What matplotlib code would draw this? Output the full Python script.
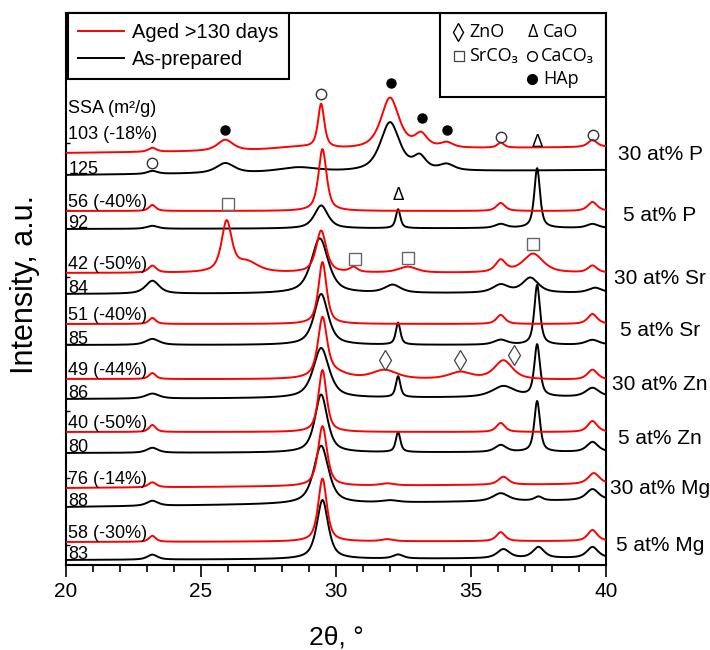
import numpy as np
import matplotlib
matplotlib.use('Agg')
import matplotlib.pyplot as plt
from matplotlib.lines import Line2D
from matplotlib.patches import Rectangle

plt.rcParams['font.family'] = ['Liberation Sans', 'DejaVu Sans']

# --- data (y in stacked-plot units) ---
samples = ["30 at% P", "5 at% P", "30 at% Sr", "5 at% Sr",
           "30 at% Zn", "5 at% Zn", "30 at% Mg", "5 at% Mg"]
ssa_aged = ["103 (-18%)", "56 (-40%)", "42 (-50%)", "51 (-40%)",
            "49 (-44%)", "40 (-50%)", "76 (-14%)", "58 (-30%)"]
ssa_prep = ["125", "92", "84", "85", "86", "80", "88", "83"]

# baseline level at 20 deg and at 40 deg
base_aged = [(412, 418), (354, 354), (292, 292), (241, 241),
             (186, 185), (133, 133), (77, 81), (23, 24)]
base_prep = [(390, 395), (336, 337), (271, 272), (220, 220),
             (166, 168), (112, 113), (58, 65), (5, 7)]

# peaks: (2theta, height, fwhm)
aged_30P = [(23.2, 4, 0.35), (25.9, 11, 0.7), (28.5, 3, 2.0), (29.45, 44, 0.28),
            (32.0, 51, 0.8), (33.15, 13, 0.55), (34.1, 5, 0.55), (36.1, 5, 0.3), (39.5, 7, 0.4)]
prep_30P = [(23.2, 3, 0.45), (25.9, 10, 0.8), (28.6, 5, 1.8), (32.0, 49, 0.85),
            (33.1, 13, 0.55), (34.1, 6, 0.65)]
aged_5P = [(23.2, 6, 0.3), (29.5, 62, 0.36), (36.1, 8, 0.38), (39.5, 9, 0.42)]
prep_5P = [(23.2, 3, 0.5), (29.45, 23, 0.6), (32.3, 19, 0.2), (36.1, 4, 0.5),
           (37.45, 60, 0.25), (39.5, 4, 0.5)]
aged_30Sr = [(23.2, 7, 0.35), (25.95, 50, 0.45), (26.7, 10, 1.0), (29.45, 42, 0.45),
             (30.65, 5, 0.35), (32.65, 6, 0.8), (36.1, 12, 0.45), (37.3, 19, 0.9), (39.5, 7, 0.4)]
prep_30Sr = [(23.2, 13, 0.6), (29.4, 55, 0.75), (32.1, 8, 0.7), (36.1, 8, 0.7),
             (37.2, 15, 0.7), (39.6, 5, 0.6)]
aged_5Sr = [(23.2, 6, 0.3), (29.5, 62, 0.36), (36.1, 9, 0.38), (39.5, 10, 0.42)]
prep_5Sr = [(23.2, 6, 0.6), (29.45, 51, 0.62), (32.3, 22, 0.2), (36.1, 5, 0.6),
            (37.45, 60, 0.25), (39.5, 5, 0.6)]
aged_30Zn = [(23.2, 6, 0.3), (29.5, 58, 0.4), (29.9, 6, 1.2), (31.8, 9, 1.1),
             (34.6, 7, 1.0), (36.2, 19, 0.8), (39.5, 10, 0.45)]
prep_30Zn = [(23.2, 5, 0.6), (29.45, 50, 0.7), (32.3, 21, 0.2), (36.2, 11, 1.0),
             (37.45, 52, 0.25), (39.5, 9, 0.6)]
aged_5Zn = [(23.2, 7, 0.3), (29.5, 62, 0.36), (36.1, 9, 0.38), (39.5, 11, 0.42)]
prep_5Zn = [(23.2, 5, 0.5), (29.45, 58, 0.55), (32.3, 20, 0.2), (36.1, 7, 0.5),
            (37.45, 51, 0.25), (39.5, 10, 0.5)]
aged_30Mg = [(23.2, 5, 0.35), (29.5, 60, 0.4), (31.9, 2, 0.6), (36.2, 8, 0.45), (39.55, 11, 0.5)]
prep_30Mg = [(23.2, 5, 0.5), (29.45, 58, 0.65), (32.0, 2, 0.7), (36.1, 8, 0.7),
             (37.5, 4, 0.35), (39.5, 11, 0.55)]
aged_5Mg = [(23.2, 6, 0.3), (29.5, 63, 0.38), (31.9, 2, 0.5), (36.1, 9, 0.38), (39.5, 11, 0.42)]
prep_5Mg = [(23.2, 5, 0.45), (29.5, 59, 0.5), (32.3, 4, 0.45), (36.2, 9, 0.55),
            (37.5, 11, 0.5), (39.5, 11, 0.5)]

peaks_aged = [aged_30P, aged_5P, aged_30Sr, aged_5Sr, aged_30Zn, aged_5Zn, aged_30Mg, aged_5Mg]
peaks_prep = [prep_30P, prep_5P, prep_30Sr, prep_5Sr, prep_30Zn, prep_5Zn, prep_30Mg, prep_5Mg]

# phase marks (2theta, y)
hap_marks = [(25.9, 435), (32.05, 482), (33.2, 447), (34.1, 435)]
caco3_marks = [(29.45, 471), (36.1, 428), (39.5, 430), (23.2, 402)]
cao_marks = [(37.45, 423), (32.3, 370)]
srco3_marks = [(26.0, 361), (30.7, 306), (32.65, 307), (37.3, 321)]
zno_marks = [(31.8, 205), (34.6, 205), (36.6, 210)]


def pattern(x, peaks, base):
    y = base[0] + (base[1] - base[0]) * (x - 20) / 20
    for pos, h, w in peaks:
        g = w / 2
        lor = g**2 / ((x - pos)**2 + g**2)
        gau = np.exp(-4 * np.log(2) * (x - pos)**2 / w**2)
        y = y + h * (0.7 * lor + 0.3 * gau)
    return y


x = np.arange(20, 40.0001, 0.02)

fig = plt.figure(figsize=(7.1, 6.5), dpi=100)
ax = fig.add_axes([66 / 710, 85 / 650, 540 / 710, 552 / 650])

for i in range(len(samples)):
    ax.plot(x, pattern(x, peaks_prep[i], base_prep[i]), color='black', lw=1.4, zorder=2)
    ax.plot(x, pattern(x, peaks_aged[i], base_aged[i]), color='red', lw=1.4, zorder=3)

    lift = 14 if i == 0 else 4
    ax.text(20.08, base_aged[i][0] + lift, ssa_aged[i], fontsize=13, va='baseline')
    ax.text(20.08, base_prep[i][0] + 1, ssa_prep[i], fontsize=13, va='baseline')
    ymid = (base_aged[i][1] + base_prep[i][1]) / 2 + 4
    ax.text(1.1, ymid, samples[i], transform=ax.get_yaxis_transform(),
            fontsize=15, ha='center', va='center', clip_on=False)

ax.text(20.08, 452, "SSA (m²/g)", fontsize=13, va='baseline')

# phase markers on the patterns
ax.plot(*zip(*hap_marks), 'o', color='black', ms=6.5, zorder=4)
ax.plot(*zip(*caco3_marks), 'o', mfc='none', mec='#333333', mew=1.0, ms=7.5, zorder=4)
ax.plot(*zip(*srco3_marks), 's', mfc='none', mec='#666666', mew=1.0, ms=8, zorder=4)
ax.plot(*zip(*zno_marks), 'd', mfc='none', mec='#444444', mew=0.9, ms=10, zorder=4)
for px, py in cao_marks:
    ax.text(px, py, "Δ", fontsize=14, ha='center', va='center',
            family=['Open Sans', 'DejaVu Sans'], zorder=4)

# legend for the two curve sets
handles = [Line2D([], [], color='red', lw=1.4), Line2D([], [], color='black', lw=1.4)]
leg = ax.legend(handles, ["Aged >130 days", "As-prepared"], loc='upper left',
                bbox_to_anchor=(0.0035, 1.0), borderaxespad=0, fontsize=14.5,
                fancybox=False, edgecolor='black', framealpha=1,
                handlelength=2.3, handletextpad=0.4, borderpad=0.5, labelspacing=0.4)
leg.get_frame().set_linewidth(1.5)

# phase key box
ax.add_patch(Rectangle((0.693, 0.848), 0.307, 0.152, transform=ax.transAxes,
                       fill=False, lw=1.5, ec='black', zorder=5))
key_font = ['Open Sans', 'DejaVu Sans']
kw = dict(fontsize=13, va='center', family=key_font)
ax.plot([34.52], [533], 'd', mfc='none', mec='black', mew=1.0, ms=9, clip_on=False)
ax.text(34.94, 533, "ZnO", **kw)
ax.text(37.3, 533, "Δ", ha='center', fontsize=13, va='center', family=key_font)
ax.text(37.66, 533, "CaO", **kw)
ax.plot([34.55], [509], 's', mfc='none', mec='#444444', mew=0.9, ms=7, clip_on=False)
ax.text(34.94, 509, "SrCO₃", **kw)
ax.plot([37.25], [509], 'o', mfc='none', mec='black', mew=1.0, ms=7, clip_on=False)
ax.text(37.58, 509, "CaCO₃", **kw)
ax.plot([37.27], [486], 'o', color='black', ms=7, clip_on=False)
ax.text(37.66, 486, "HAp", **kw)

ax.set_xlim(20, 40)
ax.set_ylim(0, 552)
ax.set_xticks([20, 25, 30, 35, 40])
ax.set_xticks(np.arange(20, 41, 1), minor=True)
ax.set_yticks(np.arange(20, 552, 67))
ax.tick_params(axis='x', which='major', direction='out', length=8.5, width=1.2,
               labelsize=15, pad=4)
ax.tick_params(axis='x', which='minor', direction='out', length=5, width=1.2)
ax.tick_params(axis='y', direction='in', length=3, width=1.0, labelleft=False)
for s in ax.spines.values():
    s.set_linewidth(1.5)

fig.text(336 / 710, 1 - 637 / 650, "2θ, °", fontsize=19, ha='center', va='center')
fig.text(25 / 710, 1 - 285 / 650, "Intensity, a.u.", fontsize=22, rotation=90,
         ha='center', va='center')

fig.savefig("out.png", dpi=100)
plt.close(fig)
